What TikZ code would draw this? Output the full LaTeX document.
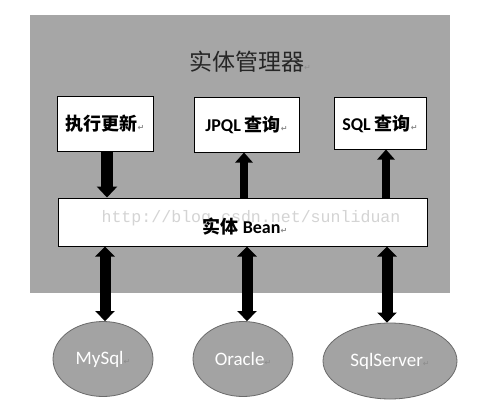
\documentclass[tikz,border=0pt]{standalone}
\usepackage{fontspec}
\setmainfont{Carlito}
\newfontfamily\cjk{Noto Sans CJK SC}
\newfontfamily\symf{DejaVu Sans}
\newfontfamily\wmf{Liberation Mono}
\usetikzlibrary{arrows.meta,shapes.geometric}
\definecolor{bggray}{HTML}{A6A6A6}
\definecolor{elgray}{HTML}{A3A3A3}
\definecolor{elborder}{HTML}{6A6A6A}
\definecolor{retgray}{HTML}{8C8C8C}
\definecolor{wmgray}{HTML}{D4D4D4}
\newcommand{\ret}{{\symf\fontsize{8}{8}\selectfont\color{retgray}↵}}
\tikzset{
  box/.style={draw=black, line width=1pt, fill=white, inner sep=0pt, font=\bfseries\fontsize{18}{18}\selectfont},
  dbnode/.style={ellipse, draw=elborder, line width=0.8pt, fill=elgray, inner sep=0pt, text=white, font=\fontsize{19}{19}\selectfont},
  bigarrow/.style={line width=12pt, -{Triangle[width=20pt,length=11pt]}},
  thinarrow/.style={line width=8pt, -{Triangle[width=17pt,length=10pt]}},
  dblarrow/.style={line width=11pt, {Triangle[width=19pt,length=10pt]}-{Triangle[width=19pt,length=10pt]}}
}
\begin{document}
\begin{tikzpicture}[x=1pt,y=-1pt]
\useasboundingbox[fill=white] (0,0) rectangle (486,414);
\fill[bggray] (30,15) rectangle (450,293);
\node[inner sep=0pt, text=black!85] (title) at (250,62) {\cjk\fontsize{23}{23}\selectfont 实体管理器\ret};
\node[box, minimum width=96pt, minimum height=54pt] (upd) at (105,124) {{\cjk\bfseries 执行更新}\ret};
\node[box, minimum width=105pt, minimum height=54pt] (jpql) at (246.5,125) {JPQL {\cjk\bfseries 查询}\ret};
\node[box, minimum width=92pt, minimum height=51pt] (sql) at (380,123.5) {SQL {\cjk\bfseries 查询}\ret};
\node[box, minimum width=369pt, minimum height=48pt] (bean) at (242.5,222) {};
\node[inner sep=0pt, text=wmgray] (wm) at (251,218) {\wmf\fontsize{16.6}{16.6}\selectfont http://blog.csdn.net/sunliduan};
\node[inner sep=0pt, font=\bfseries\fontsize{18}{18}\selectfont] (beantxt) at (245,227) {{\cjk\bfseries 实体} Bean\ret};
\node[dbnode, minimum width=100pt, minimum height=75pt] (my) at (103,359) {MySql\ret};
\node[dbnode, minimum width=100pt, minimum height=75pt] (ora) at (243,359) {Oracle\ret};
\node[dbnode, minimum width=134pt, minimum height=76pt] (ss) at (390,361) {SqlServer\ret};
% arrows
\draw[bigarrow] ([xshift=2pt]upd.south) -- ([xshift=2pt]upd.south |- bean.north);
\draw[thinarrow] ([xshift=-2.5pt]jpql.south |- bean.north) -- ([xshift=-2.5pt]jpql.south);
\draw[thinarrow] ([xshift=6pt]sql.south |- bean.north) -- ([xshift=6pt]sql.south);
\draw[dblarrow] ([xshift=2pt]my.north |- bean.south) -- ([xshift=2pt]my.north);
\draw[dblarrow] ([xshift=4pt]ora.north |- bean.south) -- ([xshift=4pt]ora.north);
\draw[dblarrow] ([xshift=-3pt]ss.north |- bean.south) -- ([xshift=-3pt]ss.north);
\end{tikzpicture}
\end{document}
